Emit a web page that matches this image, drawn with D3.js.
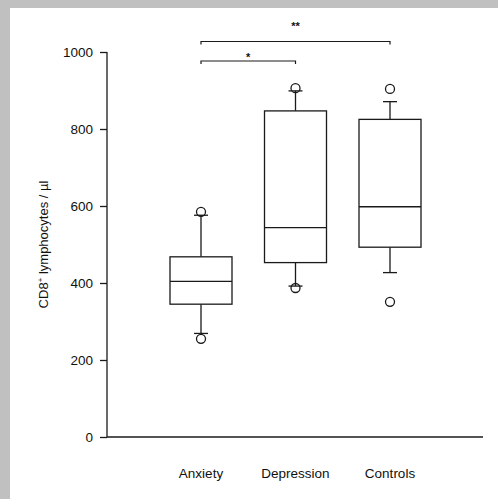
<!DOCTYPE html>
<html>
<head>
<meta charset="utf-8">
<script src="https://cdn.jsdelivr.net/npm/d3@7"></script>
<style>
  html, body { margin: 0; padding: 0; background: #fff; }
  svg { display: block; }
  text { font-family: "Liberation Sans", Arial, sans-serif; fill: #111; }
</style>
</head>
<body>
<script>
// ---- data ----
const categories = ["Anxiety", "Depression", "Controls"];
const lowerWhisker = [269, 392, 427];
const q1 = [345, 453, 493];
const median = [404, 544, 598];
const q3 = [468, 847, 825];
const upperWhisker = [576, 899, 871];
const outliers = [[255, 585], [387, 906], [351, 904]];
const yTicks = [0, 200, 400, 600, 800, 1000];
const significance = [
  { from: "Anxiety", to: "Depression", label: "*", level: 0 },
  { from: "Anxiety", to: "Controls", label: "**", level: 1 }
];

const W = 498, H = 499;
const svg = d3.select("body").append("svg").attr("width", W).attr("height", H);

// gray scan border
svg.append("rect").attr("x", 0).attr("y", 0).attr("width", W).attr("height", 8).attr("fill", "#c0c0c0");
svg.append("rect").attr("x", 0).attr("y", 0).attr("width", 10).attr("height", H).attr("fill", "#c0c0c0");

const axisX = 107, axisY = 437, axisRight = 483;
const y = d3.scaleLinear().domain([0, 1000]).range([437, 52]);
const x = d3.scalePoint().domain(categories).range([201, 390]);
const stroke = "#1a1a1a";
const sw = 1.3;

// y axis
const yAxis = svg.append("g").attr("transform", `translate(${axisX},0)`)
  .call(d3.axisLeft(y).tickValues(yTicks).tickSize(7).tickPadding(7).tickFormat(d3.format("d")));
yAxis.select(".domain").remove();
yAxis.selectAll(".tick line").attr("stroke", stroke).attr("stroke-width", sw);
yAxis.selectAll(".tick text").attr("font-size", 13.5).attr("font-family", "Liberation Sans, Arial, sans-serif").attr("fill", "#111");
svg.append("line").attr("x1", axisX).attr("x2", axisX).attr("y1", y(1000)).attr("y2", y(0))
  .attr("stroke", stroke).attr("stroke-width", sw);

// x axis
svg.append("line").attr("x1", axisX).attr("x2", axisRight).attr("y1", axisY).attr("y2", axisY)
  .attr("stroke", stroke).attr("stroke-width", sw);
svg.append("g").selectAll("text").data(categories).join("text")
  .attr("x", d => x(d)).attr("y", 478).attr("text-anchor", "middle")
  .attr("font-size", 13.5).text(d => d);

// y title
svg.append("text")
  .attr("transform", `translate(48,${(y(0) + y(1000)) / 2}) rotate(-90)`)
  .attr("text-anchor", "middle").attr("font-size", 13)
  .html('CD8<tspan dy="-5" font-size="8">+</tspan><tspan dy="5"> lymphocytes / µl</tspan>');

// boxes
const boxW = 62, capW = 14, r = 4.5;
const g = svg.append("g").attr("fill", "none").attr("stroke", stroke).attr("stroke-width", sw);
categories.forEach((c, i) => {
  const cx = x(c);
  // whiskers
  g.append("line").attr("x1", cx).attr("x2", cx).attr("y1", y(q3[i])).attr("y2", y(upperWhisker[i]));
  g.append("line").attr("x1", cx).attr("x2", cx).attr("y1", y(q1[i])).attr("y2", y(lowerWhisker[i]));
  g.append("line").attr("x1", cx - capW / 2).attr("x2", cx + capW / 2).attr("y1", y(upperWhisker[i])).attr("y2", y(upperWhisker[i]));
  g.append("line").attr("x1", cx - capW / 2).attr("x2", cx + capW / 2).attr("y1", y(lowerWhisker[i])).attr("y2", y(lowerWhisker[i]));
  // box
  g.append("rect").attr("x", cx - boxW / 2).attr("y", y(q3[i])).attr("width", boxW)
    .attr("height", y(q1[i]) - y(q3[i])).attr("fill", "#fff");
  g.append("line").attr("x1", cx - boxW / 2).attr("x2", cx + boxW / 2).attr("y1", y(median[i])).attr("y2", y(median[i]));
  // outliers
  outliers[i].forEach(v => {
    g.append("circle").attr("cx", cx).attr("cy", y(v)).attr("r", r);
  });
});

// significance brackets
const bracketY = [61, 41.5];
const starY = [56, 25];
significance.forEach(s => {
  const x1 = x(s.from), x2 = x(s.to), by = bracketY[s.level];
  svg.append("path")
    .attr("d", `M${x1},${by + 3}V${by}H${x2}V${by + 3}`)
    .attr("fill", "none").attr("stroke", stroke).attr("stroke-width", 1.2);
  svg.append("text").attr("x", (x1 + x2) / 2).attr("y", starY[s.level] + 5)
    .attr("text-anchor", "middle").attr("font-size", 11).attr("font-weight", "bold").text(s.label);
});
</script>
</body>
</html>
